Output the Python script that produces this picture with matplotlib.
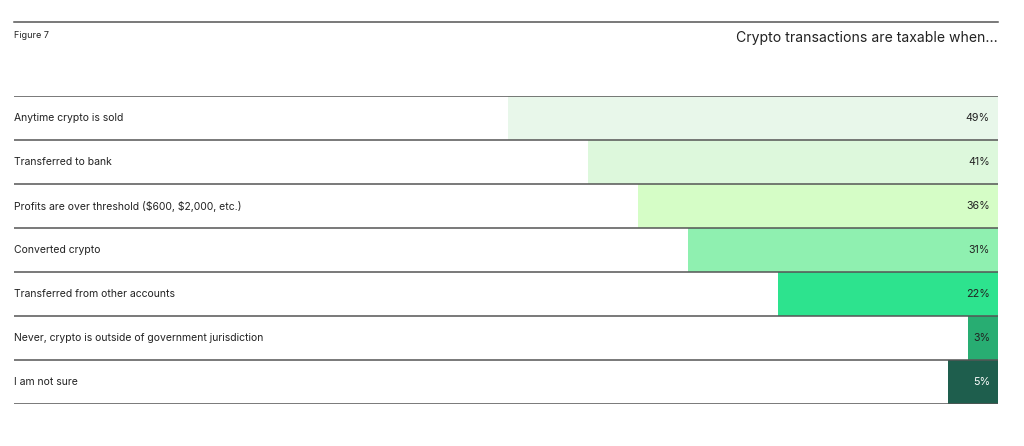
import matplotlib.pyplot as plt

categories = [
    "Anytime crypto is sold",
    "Transferred to bank",
    "Profits are over threshold (\\$600, \\$2,000, etc.)",
    "Converted crypto",
    "Transferred from other accounts",
    "Never, crypto is outside of government jurisdiction",
    "I am not sure",
]
values = [49, 41, 36, 31, 22, 3, 5]
bar_colors = ["#e8f7ea", "#ddf8dc", "#d5fdc6", "#8ff0b0", "#2de38e", "#28ad72", "#1e5e4d"]
text_colors = ["#222222"] * 6 + ["#ffffff"]

plt.rcParams['font.family'] = ['Inter', 'DejaVu Sans']

fig = plt.figure(figsize=(10.24, 4.46), dpi=100)
ax = fig.add_axes([14 / 1024, (446 - 404) / 446, 984 / 1024, 308 / 446])

n = len(categories)
ypos = list(range(n))
ax.barh(ypos, values, height=1.0, left=0, color=bar_colors, edgecolor='none')
ax.set_xlim(98.4, 0)
ax.set_ylim(n - 0.5, -0.5)

for i, (cat, v) in enumerate(zip(categories, values)):
    ax.text(98.4, i, cat, ha='left', va='center', fontsize=7.5, color='#222222')
    ax.text(0.8, i, f"{v}%", ha='right', va='center', fontsize=7.7, color=text_colors[i])

# row separators
for b in range(n + 1):
    ax.axhline(b - 0.5, color='#555555', lw=1.1)

ax.axis('off')

# top rule and headings
fig.add_artist(plt.Line2D([14 / 1024, 998 / 1024], [1 - 22 / 446] * 2, color='#555555', lw=1.1))
fig.text(14 / 1024, 1 - 36 / 446, "Figure 7", ha='left', va='center', fontsize=6.5, color='#222222')
fig.text(998 / 1024, 1 - 38 / 446, "Crypto transactions are taxable when...", ha='right', va='center',
         fontsize=10.1, color='#222222')

fig.savefig('out.png', dpi=100)
